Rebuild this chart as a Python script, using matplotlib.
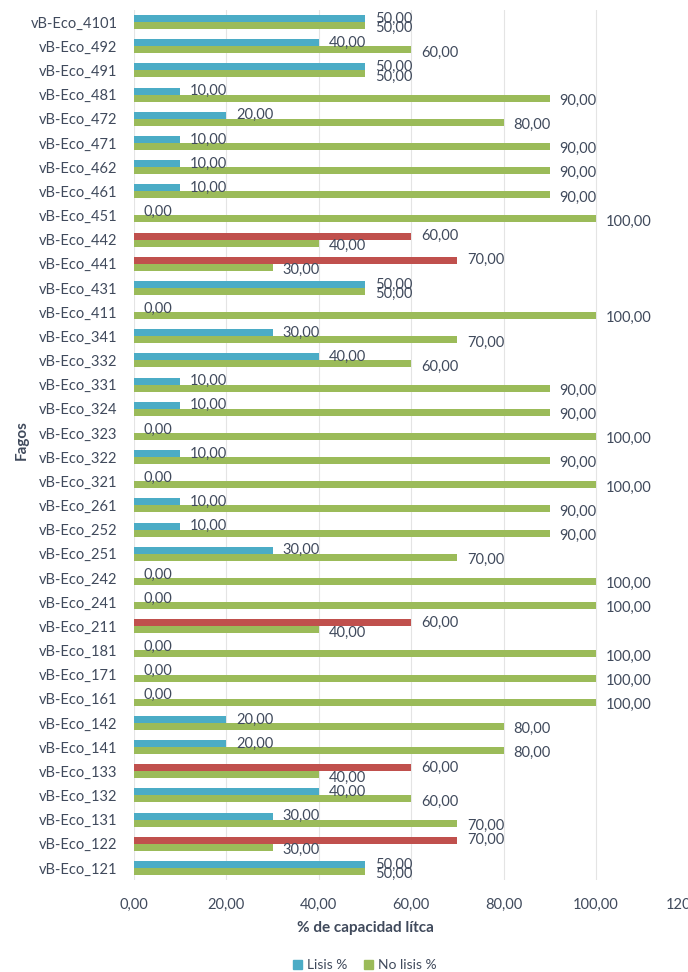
import matplotlib
matplotlib.use("Agg")
import matplotlib.pyplot as plt
from matplotlib.patches import Patch
import numpy as np

plt.rcParams['font.family'] = ['Lato', 'DejaVu Sans']

fagos = ["vB-Eco_4101", "vB-Eco_492", "vB-Eco_491", "vB-Eco_481", "vB-Eco_472",
         "vB-Eco_471", "vB-Eco_462", "vB-Eco_461", "vB-Eco_451", "vB-Eco_442",
         "vB-Eco_441", "vB-Eco_431", "vB-Eco_411", "vB-Eco_341", "vB-Eco_332",
         "vB-Eco_331", "vB-Eco_324", "vB-Eco_323", "vB-Eco_322", "vB-Eco_321",
         "vB-Eco_261", "vB-Eco_252", "vB-Eco_251", "vB-Eco_242", "vB-Eco_241",
         "vB-Eco_211", "vB-Eco_181", "vB-Eco_171", "vB-Eco_161", "vB-Eco_142",
         "vB-Eco_141", "vB-Eco_133", "vB-Eco_132", "vB-Eco_131", "vB-Eco_122",
         "vB-Eco_121"]
lisis = [50, 40, 50, 10, 20, 10, 10, 10, 0, 60, 70, 50, 0, 30, 40, 10, 10, 0,
         10, 0, 10, 10, 30, 0, 0, 60, 0, 0, 0, 20, 20, 60, 40, 30, 70, 50]
no_lisis = [50, 60, 50, 90, 80, 90, 90, 90, 100, 40, 30, 50, 100, 70, 60, 90, 90, 100,
            90, 100, 90, 90, 70, 100, 100, 40, 100, 100, 100, 80, 80, 40, 60, 70, 30, 50]
xticks = [0, 20, 40, 60, 80, 100, 120]

BLUE = '#4bacc6'
GREEN = '#9bbb59'
RED = '#c0504d'
TXT = '#404a5c'

fig = plt.figure(figsize=(6.88, 9.72), dpi=100)
ax = fig.add_axes([134/688, 1 - 880/972, 554.5/688, 870/972])

y = np.arange(len(fagos))
h = 0.29
off = 0.145
blue_colors = [RED if v > 50 else BLUE for v in lisis]
ax.barh(y - off, lisis, height=h, color=blue_colors, zorder=3)
ax.barh(y + off, no_lisis, height=h, color=GREEN, zorder=3)

for yi, v in zip(y, lisis):
    ax.annotate(f"{v:.2f}".replace('.', ','), (v, yi - off), xytext=(7, 0),
                textcoords='offset points', va='center', ha='left',
                fontsize=10.5, color=TXT, zorder=4)
for yi, v in zip(y, no_lisis):
    ax.annotate(f"{v:.2f}".replace('.', ','), (v, yi + off), xytext=(7, -2),
                textcoords='offset points', va='center', ha='left',
                fontsize=10.5, color=TXT, zorder=4)

ax.set_xlim(0, 120)
ax.set_ylim(len(fagos) - 0.5, -0.5)
ax.set_yticks(y)
ax.set_yticklabels(fagos)
ax.set_xticks(xticks)
ax.set_xticklabels([f"{t:.2f}".replace('.', ',') for t in xticks])
ax.tick_params(axis='both', length=0, labelsize=10.5, colors=TXT)
ax.tick_params(axis='y', pad=12)
ax.tick_params(axis='x', pad=13)
ax.xaxis.grid(True, color='#e4e4e4', linewidth=0.8, zorder=0)
for s in ax.spines.values():
    s.set_visible(False)

fig.text(365/688, 1 - 928/972, "% de capacidad lítca", ha='center', va='center',
         fontsize=11, fontweight='bold', color=TXT)
fig.text(22/688, 1 - 440/972, "Fagos", ha='center', va='center', rotation=90,
         fontsize=11, fontweight='bold', color=TXT)

handles = [Patch(color=BLUE, label='Lisis %'), Patch(color=GREEN, label='No lisis %')]
fig.legend(handles=handles, loc='center', bbox_to_anchor=(365/688, 1 - 965/972),
           ncol=2, frameon=False, fontsize=10, handlelength=0.6, handleheight=0.6,
           handletextpad=0.4, columnspacing=1.2, labelcolor=TXT)

fig.savefig("out.png", dpi=100, facecolor='white')
